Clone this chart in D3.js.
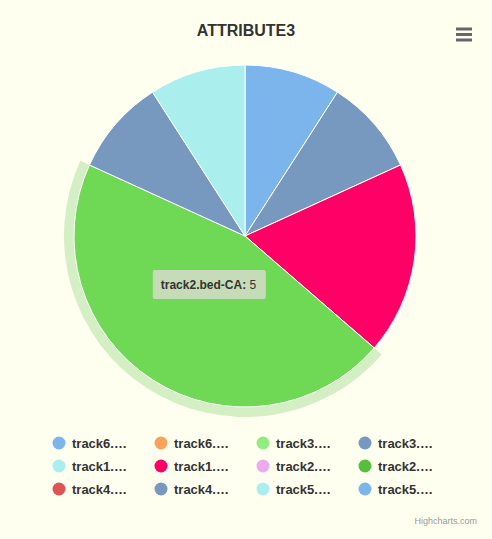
<!DOCTYPE html>
<html><head><meta charset="utf-8">
<script src="https://cdn.jsdelivr.net/npm/d3@7"></script>
<style>
html,body{margin:0;padding:0;background:#fffff0;}
svg{display:block;font-family:"Liberation Sans",Arial,Helvetica,sans-serif;}
</style></head>
<body>
<svg id="c" width="492" height="539"></svg>
<script>
const categories = ["track6.bed-AC","track6.bed-CA","track3.bed-AC","track3.bed-CA","track1.bed-AC","track1.bed-CA","track2.bed-AC","track2.bed-CA","track4.bed-AC","track4.bed-CA","track5.bed-AC","track5.bed-CA"];
const values = [1,0,0,1,0,2,0,5,0,1,1,0];
const colors = ["#7cb5ec","#f7a35c","#90ee7e","#7798BF","#aaeeee","#ff0066","#eeaaee","#55BF3B","#DF5353","#7798BF","#aaeeee","#7cb5ec"];
const title = "ATTRIBUTE3";
const hoveredIndex = 7;

const svg = d3.select("#c");
const W = 492, H = 539;
svg.append("rect").attr("width",W).attr("height",H).attr("fill","#fffff0");

svg.append("text").attr("x",246).attr("y",36).attr("text-anchor","middle")
  .attr("font-size","16px").attr("font-weight","bold").attr("fill","#333333").text(title);

// menu icon
const menu = svg.append("g").attr("stroke","#666666").attr("stroke-width",3).attr("stroke-linecap","butt");
[29,34.5,40].forEach(y=>menu.append("line").attr("x1",456).attr("x2",472).attr("y1",y).attr("y2",y));

const cx = 245, cy = 236, r = 171;
const data = categories.map((c,i)=>({name:c,value:values[i],color:colors[i],i}));
const pie = d3.pie().sort(null).value(d=>d.value).startAngle(0).endAngle(2*Math.PI);
const arcs = pie(data);
const arc = d3.arc().innerRadius(0).outerRadius(r);
const g = svg.append("g").attr("transform",`translate(${cx},${cy})`);

function brighten(hex, a){
  const c = d3.rgb(hex);
  const f = v => Math.min(255, Math.round(v + 255*a));
  return d3.rgb(f(c.r), f(c.g), f(c.b)).formatHex();
}

// halo
const hov = arcs[hoveredIndex];
g.append("path").attr("d", d3.arc().innerRadius(r).outerRadius(r+10)(hov))
  .attr("fill", colors[hoveredIndex]).attr("fill-opacity",0.25);

g.selectAll("path.slice").data(arcs.filter(a=>a.value>0)).enter().append("path")
  .attr("class","slice").attr("d",arc)
  .attr("fill", d=> d.data.i===hoveredIndex ? brighten(d.data.color,0.1) : d.data.color)
  .attr("stroke","#ffffff").attr("stroke-width",1).attr("stroke-linejoin","round");

// tooltip
const cen = d3.arc().innerRadius(0).outerRadius(r).centroid(hov);
const tx = cx + cen[0] - 46, ty = cy + cen[1] - 38;
const tip = svg.append("g").attr("transform",`translate(${tx},${ty})`);
tip.append("rect").attr("x",0).attr("y",0).attr("width",113).attr("height",29).attr("rx",2)
  .attr("fill","#c6dcb8").attr("stroke","none");
const tt = tip.append("text").attr("x",8).attr("y",19.5).attr("font-size","12px").attr("fill","#333333");
tt.append("tspan").attr("font-weight","bold").text(categories[hoveredIndex]+":");
tt.append("tspan").text(" "+values[hoveredIndex]);

// legend
const leg = svg.append("g");
const colX = [59,161,263,365], rowY = [443,466,489];
data.forEach((d,i)=>{
  const x = colX[i%4], y = rowY[Math.floor(i/4)];
  leg.append("circle").attr("cx",x).attr("cy",y).attr("r",6.5).attr("fill",d.color);
  leg.append("text").attr("x",x+13).attr("y",y+4.5).attr("font-size","13px").attr("font-weight","bold")
    .attr("fill","#333333").text(d.name.slice(0,7)+"\u2026");
});

svg.append("text").attr("x",477).attr("y",524).attr("text-anchor","end").attr("font-size","9px")
  .attr("fill","#999999").text("Highcharts.com");
</script>
</body></html>
